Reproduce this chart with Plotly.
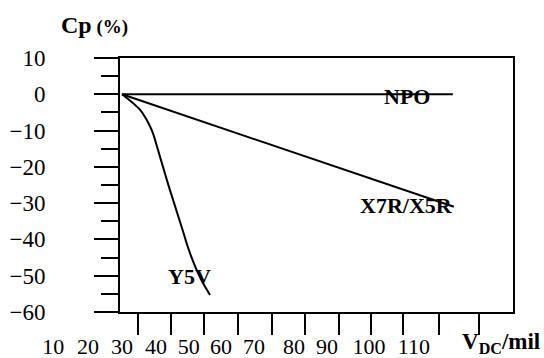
import plotly.graph_objects as go

# ---- data ----
npo_x = [30, 128.5]
npo_y = [0, 0]
x7r_x = [30, 128.8]
x7r_y = [0, -31.0]
y5v_x = [30, 31.8, 33.6, 35.4, 36.9, 38.0, 39.2, 40.7, 42.2, 43.7, 45.2, 46.7, 48.2, 49.6, 51.1, 52.6, 54.4, 56.2]
y5v_y = [0, -1.3, -2.7, -4.3, -6.3, -8.2, -10.7, -15.3, -20.0, -24.7, -29.1, -33.5, -37.9, -42.1, -45.9, -49.2, -52.5, -55.3]

# x tick marks (unlabelled) and the x labels, placed where they appear in the picture
x_tick_vals = [34.8, 44.6, 54.4, 64.5, 74.6, 84.5, 94.6, 104.1, 113.6, 124.3, 136.3]
x_label_text = ["10", "20", "30", "40", "50", "60", "70", "80", "90", "100", "110"]
x_label_pos = [9.5, 19.9, 30.0, 40.1, 49.9, 59.5, 69.3, 81.2, 91.0, 103.5, 116.9]

y_tick_vals = [10, 0, -10, -20, -30, -40, -50, -60]
y_tick_text = ["10", "0", "\u221210", "\u221220", "\u221230", "\u221240", "\u221250", "\u221260"]

series_labels = ["NPO", "X7R/X5R", "Y5V"]
label_x = [114.8, 114.8, 50.2]
label_y = [-0.7, -30.6, -50.2]

FONT = "Liberation Serif"

X_RANGE = [29.4, 146.4]
X2_RANGE = [2.61, 146.4]   # same scale, extended left for the outer labels

fig = go.Figure()
# invisible trace to carry the label axis (added first so it sits underneath)
fig.add_trace(go.Scatter(x=x_label_pos, y=[None] * len(x_label_pos), xaxis="x2", yaxis="y",
                         mode="markers", hoverinfo="skip", showlegend=False))
line_style = dict(color="black", width=2)
fig.add_trace(go.Scatter(x=npo_x, y=npo_y, mode="lines", line=line_style, hoverinfo="skip"))
fig.add_trace(go.Scatter(x=x7r_x, y=x7r_y, mode="lines", line=line_style, hoverinfo="skip"))
fig.add_trace(go.Scatter(x=y5v_x, y=y5v_y, mode="lines",
                         line=dict(color="black", width=2, shape="spline", smoothing=0.8),
                         hoverinfo="skip"))

annotations = []
for t, xp, yp in zip(series_labels, label_x, label_y):
    annotations.append(dict(x=xp, y=yp, xref="x", yref="y", text="<b>%s</b>" % t, showarrow=False,
                            xanchor="center", yanchor="middle",
                            font=dict(family=FONT, size=22, color="black")))
annotations.append(dict(x=-0.155, y=1.13, xref="x domain", yref="paper",
                        text="<b>Cp</b><span style='font-size:19px'> <b>(%)</b></span>",
                        showarrow=False, xanchor="left", yanchor="middle",
                        font=dict(family=FONT, size=24, color="black")))
annotations.append(dict(x=1.074, y=-0.122, xref="x domain", yref="paper",
                        text="<b>V<sub>DC</sub>/mil</b>",
                        showarrow=False, xanchor="right", yanchor="middle",
                        font=dict(family=FONT, size=23, color="black")))

fig.update_layout(
    width=544, height=358,
    margin=dict(l=30, r=31, t=58, b=46, autoexpand=False),
    paper_bgcolor="white", plot_bgcolor="rgba(0,0,0,0)",
    showlegend=False,
    font=dict(family=FONT, color="black"),
    annotations=annotations,
    xaxis=dict(domain=[90 / 483, 1], range=X_RANGE, showgrid=False, zeroline=False,
               automargin=False,
               showline=True, linecolor="black", linewidth=2, mirror=True,
               ticks="outside", ticklen=21, tickwidth=2, tickcolor="black",
               tickmode="array", tickvals=x_tick_vals, showticklabels=False),
    xaxis2=dict(domain=[0, 1], range=X2_RANGE, anchor="y", side="bottom",
                automargin=False,
                showgrid=False, zeroline=False, showline=False, ticks="",
                tickmode="array", tickvals=x_label_pos, ticktext=x_label_text,
                ticklabelstandoff=19,
                tickfont=dict(family=FONT, size=22, color="black")),
    yaxis=dict(range=[-60, 10], showgrid=False, zeroline=False,
               automargin=False,
               showline=True, linecolor="black", linewidth=2, mirror=True,
               ticks="outside", ticklen=24, tickwidth=2, tickcolor="black",
               tickmode="array", tickvals=y_tick_vals, ticktext=y_tick_text,
               ticklabelstandoff=44,
               tickfont=dict(family=FONT, size=23, color="black"),
               minor=dict(ticks="outside", ticklen=17, tickwidth=2, tickcolor="black", dtick=5, tick0=0)),
)

fig.write_html("out.html")
